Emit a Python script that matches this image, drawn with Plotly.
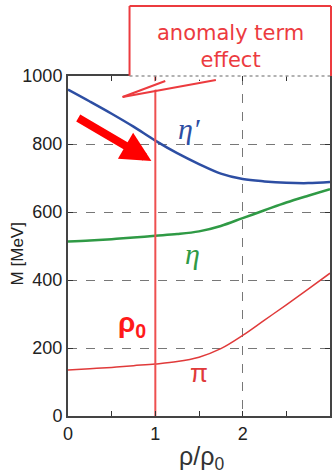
import plotly.graph_objects as go

# ---- data ----
rho = [0, 0.25, 0.5, 0.75, 1.0, 1.25, 1.5, 1.75, 2.0, 2.25, 2.5, 2.75, 3.0]
m_eta_prime = [960, 925, 889, 851, 810, 773, 741, 713, 697, 690, 686, 685, 688]
m_eta = [513, 516, 520, 525, 530, 535, 543, 559, 582, 605, 628, 648, 667]
m_pi = [135, 139, 143, 148, 153, 160, 173, 198, 237, 282, 327, 373, 420]
rho0_line_x = [1, 1]
rho0_line_y = [0, 1000]
x_ticks = [0, 1, 2, 3]
y_ticks = [0, 200, 400, 600, 800, 1000]

W, H = 335, 475
L, R, T, B = 68, 3, 76, 59
pw, ph = W - L - R, H - T - B


def px(x):
    return (x - L) / pw


def py(y):
    return (H - B - y) / ph


fig = go.Figure()
fig.add_trace(go.Scatter(x=rho, y=m_eta_prime, mode="lines",
                         line=dict(color="#2d4ea3", width=2.5, shape="spline"),
                         hoverinfo="skip", showlegend=False))
fig.add_trace(go.Scatter(x=rho, y=m_eta, mode="lines",
                         line=dict(color="#2f9a45", width=2.5, shape="spline"),
                         hoverinfo="skip", showlegend=False))
fig.add_trace(go.Scatter(x=rho, y=m_pi, mode="lines",
                         line=dict(color="#e03a3a", width=1.5, shape="spline"),
                         hoverinfo="skip", showlegend=False))
fig.add_trace(go.Scatter(x=rho0_line_x, y=rho0_line_y, mode="lines",
                         line=dict(color="#ee5050", width=2),
                         hoverinfo="skip", showlegend=False, cliponaxis=False))

axis_common = dict(
    showline=True, linecolor="#444", linewidth=2, mirror="ticks",
    ticks="inside", ticklen=5, tickcolor="#333",
    showgrid=True, gridcolor="#777", griddash="dash", gridwidth=1,
    zeroline=False,
    tickfont=dict(family="Liberation Sans, Arial", size=18, color="#222"),
)

fig.update_xaxes(range=[0, 3], tickvals=x_ticks, ticktext=[str(v) for v in x_ticks],
                 minor=dict(dtick=0.5, ticks="inside", ticklen=5, tickcolor="#333", showgrid=False),
                 **axis_common)
fig.update_yaxes(range=[0, 1000], tickvals=y_ticks, ticktext=[str(v) for v in y_ticks],
                 **axis_common)

shapes = []
# callout background (no outline)
bx0, bx1, by0, by1 = 130, 333, 6, 76
tipx, tipy = 123, 97
b1x, b2x = 166, 217
path = (f"M {px(bx0)},{py(by0)} L {px(bx1)},{py(by0)} L {px(bx1)},{py(by1)} "
        f"L {px(b2x)},{py(by1)} L {px(tipx)},{py(tipy)} L {px(b1x)},{py(by1)} "
        f"L {px(bx0)},{py(by1)} Z")
shapes.append(dict(type="path", path=path, xref="paper", yref="paper",
                   fillcolor="white", line=dict(width=0), layer="above"))
red = "#ec3b3f"
segs = [((bx0, by1), (bx0, by0)), ((bx0, by0), (bx1, by0)), ((bx1, by0), (bx1, by1)),
        ((b1x, by1 + 5), (tipx, tipy)), ((b2x, by1 + 4), (tipx, tipy))]
for (x0, y0), (x1, y1) in segs:
    shapes.append(dict(type="line", xref="paper", yref="paper",
                       x0=px(x0), y0=py(y0), x1=px(x1), y1=py(y1),
                       line=dict(color=red, width=2), layer="above"))
# dotted top frame over the callout
shapes.append(dict(type="line", xref="paper", yref="paper",
                   x0=px(bx0), y0=1, x1=1, y1=1,
                   line=dict(color="#999", width=1.5, dash="dot"), layer="above"))
fig.update_layout(shapes=shapes)

ann = []
ann.append(dict(text="anomaly term<br>effect", xref="paper", yref="paper",
                x=px((bx0 + bx1) / 2), y=py(46), xanchor="center", yanchor="middle",
                showarrow=False, font=dict(family="DejaVu Sans", size=21, color=red)))
# red arrow
ann.append(dict(x=0.955, y=750, ax=0.10, ay=879, xref="x", yref="y", axref="x", ayref="y",
                text="", showarrow=True, arrowcolor="#ff0000", arrowwidth=8,
                arrowhead=2, arrowsize=0.75))
ann.append(dict(text="<i>η′</i>", x=1.39, y=845, xref="x", yref="y", showarrow=False,
                font=dict(family="Liberation Serif", size=30, color="#2d4ea3")))
ann.append(dict(text="<i>η</i>", x=1.43, y=478, xref="x", yref="y", showarrow=False,
                font=dict(family="Liberation Serif", size=30, color="#2f9a45")))
ann.append(dict(text="π", x=1.5, y=126, xref="x", yref="y", showarrow=False,
                font=dict(family="Liberation Sans", size=26, color="#e03a3a")))
ann.append(dict(text="<b>ρ<sub>0</sub></b>", x=0.73, y=270, xref="x", yref="y", showarrow=False,
                font=dict(family="Liberation Sans", size=28, color="#ff1a1a")))
ann.append(dict(text="ρ/ρ<sub>0</sub>", xref="paper", yref="paper", x=px(203), y=py(458),
                xanchor="center", yanchor="middle", showarrow=False,
                font=dict(family="Liberation Sans", size=25, color="#333")))
ann.append(dict(text="M [MeV]", xref="paper", yref="paper", x=px(17), y=py(254),
                xanchor="center", yanchor="middle", textangle=-90, showarrow=False,
                font=dict(family="Liberation Sans", size=17, color="#222")))
fig.update_layout(annotations=ann)

fig.update_layout(width=W, height=H, margin=dict(l=L, r=R, t=T, b=B),
                  paper_bgcolor="white", plot_bgcolor="white", showlegend=False)

fig.write_html("out.html")
